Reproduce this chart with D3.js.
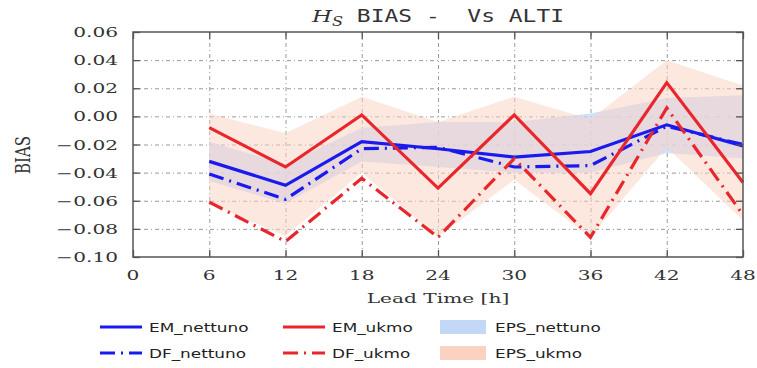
<!DOCTYPE html>
<html>
<head>
<meta charset="utf-8">
<script src="https://cdn.jsdelivr.net/npm/d3@7/dist/d3.min.js"></script>
<style>
  body { margin: 0; background: #fff; }
  .grid line { stroke: #9a9a9a; stroke-width: 1; stroke-dasharray: 4,3,1,3; }
  .tick-label { font-family: "DejaVu Serif", serif; font-size: 13px; fill: #333; }
</style>
</head>
<body>
<svg id="chart" width="757" height="368"></svg>
<script>
// data
const leadTimes = [6, 12, 18, 24, 30, 36, 42, 48];
const emNettuno = [-0.032, -0.049, -0.018, -0.023, -0.029, -0.025, -0.006, -0.021];
const dfNettuno = [-0.041, -0.059, -0.023, -0.022, -0.036, -0.035, -0.007, -0.020];
const emUkmo = [-0.008, -0.036, 0.001, -0.051, 0.001, -0.055, 0.024, -0.047];
const dfUkmo = [-0.061, -0.089, -0.044, -0.086, -0.030, -0.086, 0.006, -0.070];
const epsNettunoLow = [-0.046, -0.062, -0.032, -0.036, -0.040, -0.040, -0.026, -0.030];
const epsNettunoHigh = [-0.018, -0.034, -0.008, -0.004, -0.004, 0.002, 0.013, 0.015];
const epsUkmoLow = [-0.062, -0.085, -0.040, -0.086, -0.045, -0.086, -0.022, -0.074];
const epsUkmoHigh = [0.002, -0.012, 0.014, -0.004, 0.014, -0.002, 0.040, 0.022];
const xTicks = [0, 6, 12, 18, 24, 30, 36, 42, 48];
const yTicks = [0.06, 0.04, 0.02, 0.00, -0.02, -0.04, -0.06, -0.08, -0.10];

const BLUE = '#1a1aee';
const RED = '#e8262b';
const BLUE_FILL = '#c3d7f6';
const RED_FILL = '#fbd2c1';
const DASH = '15,6,2,6';

const margin = { left: 133, right: 14, top: 32, bottom: 111 };
const W = 757, H = 368;
const width = W - margin.left - margin.right;
const height = H - margin.top - margin.bottom;

const svg = d3.select('#chart');
const chart = svg.append('g')
    .attr('transform', `translate(${margin.left},${margin.top})`);

const xScale = d3.scaleLinear().domain([0, 48]).range([0, width]);
const yScale = d3.scaleLinear().domain([-0.10, 0.06]).range([height, 0]);

// the picture is squeezed: text is wider than it is tall
function stretch(sel, x, y, sx) {
    return sel.attr('transform', `translate(${x},${y}) scale(${sx},1)`);
}

// grid
chart.append('g').attr('class', 'grid')
    .call(d3.axisBottom(xScale).tickValues(xTicks.slice(1, -1)).tickSize(height).tickFormat(''))
    .call(g => g.select('.domain').remove());
chart.append('g').attr('class', 'grid')
    .call(d3.axisLeft(yScale).tickValues(yTicks.slice(1, -1)).tickSize(-width).tickFormat(''))
    .call(g => g.select('.domain').remove());

// ensemble spread bands
const rows = leadTimes.map((t, i) => ({ t, i }));
const band = (lo, hi) => d3.area()
    .x(d => xScale(d.t))
    .y0(d => yScale(lo[d.i]))
    .y1(d => yScale(hi[d.i]));

chart.append('path').datum(rows)
    .attr('d', band(epsNettunoLow, epsNettunoHigh))
    .attr('fill', BLUE_FILL).attr('fill-opacity', 0.75);
chart.append('path').datum(rows)
    .attr('d', band(epsUkmoLow, epsUkmoHigh))
    .attr('fill', RED_FILL).attr('fill-opacity', 0.5);

// lines
const series = [
    { vals: emNettuno, color: BLUE, dash: null },
    { vals: dfNettuno, color: BLUE, dash: DASH },
    { vals: emUkmo, color: RED, dash: null },
    { vals: dfUkmo, color: RED, dash: DASH }
];
series.forEach(s => {
    chart.append('path').datum(rows)
        .attr('d', d3.line().x(d => xScale(d.t)).y(d => yScale(s.vals[d.i])))
        .attr('fill', 'none')
        .attr('stroke', s.color)
        .attr('stroke-width', 3.2)
        .attr('stroke-dasharray', s.dash);
});

// frame and inward ticks on all sides
chart.append('rect')
    .attr('width', width).attr('height', height)
    .attr('fill', 'none').attr('stroke', '#555').attr('stroke-width', 1.5);

const tickStyle = g => {
    g.select('.domain').remove();
    g.selectAll('.tick line').attr('stroke', '#555').attr('stroke-width', 1.3);
    g.selectAll('.tick text').remove();
};
chart.append('g').call(d3.axisLeft(yScale).tickValues(yTicks).tickSize(-7)).call(tickStyle);
chart.append('g').attr('transform', `translate(${width},0)`)
    .call(d3.axisRight(yScale).tickValues(yTicks).tickSize(-7)).call(tickStyle);
chart.append('g').attr('transform', `translate(0,${height})`)
    .call(d3.axisBottom(xScale).tickValues(xTicks).tickSize(-7)).call(tickStyle);
chart.append('g')
    .call(d3.axisTop(xScale).tickValues(xTicks).tickSize(-7)).call(tickStyle);

// tick labels
const yFmt = d3.format('.2f');
yTicks.forEach(v => {
    stretch(chart.append('text'), -15, yScale(v) + 5, 1.55)
        .attr('class', 'tick-label')
        .attr('text-anchor', 'end')
        .text(yFmt(v));
});
xTicks.forEach(v => {
    stretch(chart.append('text'), xScale(v), height + 23, 1.55)
        .attr('class', 'tick-label')
        .attr('text-anchor', 'middle')
        .text(v);
});

// axis titles
stretch(chart.append('text'), width / 2, height + 46, 1.55)
    .attr('text-anchor', 'middle')
    .style('font-family', '"DejaVu Serif", serif')
    .style('font-size', '13px')
    .style('fill', '#333')
    .text('Lead Time [h]');

svg.append('text')
    .attr('transform', 'translate(30,155) scale(1.4,1) rotate(-90)')
    .attr('text-anchor', 'middle')
    .style('font-family', '"DejaVu Serif", serif')
    .style('font-size', '15px')
    .style('fill', '#333')
    .text('BIAS');

// title
const title = stretch(svg.append('text'), margin.left + width / 2, 22, 1.35)
    .attr('text-anchor', 'middle')
    .style('font-family', '"DejaVu Sans Mono", monospace')
    .style('font-size', '17px')
    .style('fill', '#333');
title.append('tspan').style('font-family', '"DejaVu Serif", serif').style('font-style', 'italic').text('H');
title.append('tspan').style('font-family', '"DejaVu Serif", serif').style('font-style', 'italic')
    .style('font-size', '12px').attr('dy', 4).text('S');
title.append('tspan').attr('dy', -4).attr('xml:space', 'preserve').text(' BIAS -  Vs ALTI');

// legend
const legendItems = [
    { label: 'EM_nettuno', color: BLUE, dash: null, kind: 'line', x: 100, y: 327 },
    { label: 'DF_nettuno', color: BLUE, dash: DASH, kind: 'line', x: 100, y: 353 },
    { label: 'EM_ukmo', color: RED, dash: null, kind: 'line', x: 283, y: 327 },
    { label: 'DF_ukmo', color: RED, dash: DASH, kind: 'line', x: 283, y: 353 },
    { label: 'EPS_nettuno', color: BLUE_FILL, kind: 'patch', x: 440, y: 327 },
    { label: 'EPS_ukmo', color: RED_FILL, kind: 'patch', x: 440, y: 353 }
];
const legend = svg.append('g');
legendItems.forEach(d => {
    if (d.kind === 'line') {
        legend.append('line')
            .attr('x1', d.x).attr('x2', d.x + 42)
            .attr('y1', d.y).attr('y2', d.y)
            .attr('stroke', d.color).attr('stroke-width', 3.2)
            .attr('stroke-dasharray', d.dash);
    } else {
        legend.append('rect')
            .attr('x', d.x).attr('y', d.y - 7)
            .attr('width', 46).attr('height', 14)
            .attr('fill', d.color);
    }
    stretch(legend.append('text'), d.x + (d.kind === 'line' ? 49 : 55), d.y + 5, 1.35)
        .style('font-family', '"DejaVu Sans", sans-serif')
        .style('font-size', '12.5px')
        .style('fill', '#222')
        .text(d.label);
});
</script>
</body>
</html>
